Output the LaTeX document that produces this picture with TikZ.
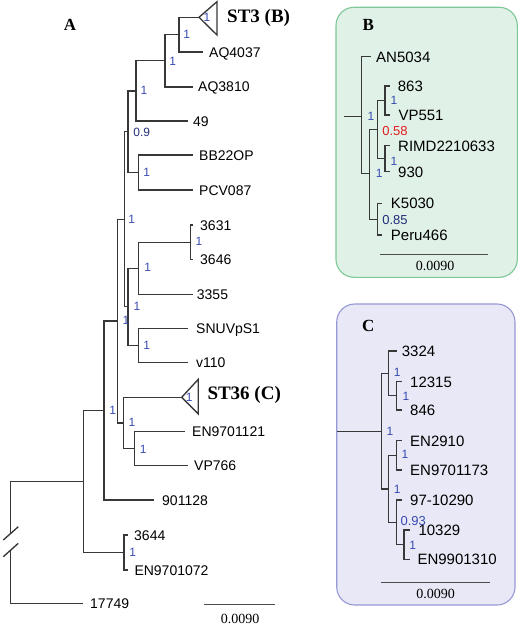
\documentclass[tikz,border=0pt]{standalone}
\usepackage{fontspec}
\setmainfont{Liberation Serif}
\newfontfamily\lab{Liberation Sans}
\definecolor{supblue}{RGB}{55,75,175}
\definecolor{supnavy}{RGB}{35,45,120}
\definecolor{supred}{RGB}{225,30,30}
\definecolor{bfill}{RGB}{224,241,231}
\definecolor{bdraw}{RGB}{125,200,150}
\definecolor{cfill}{RGB}{232,232,246}
\definecolor{cdraw}{RGB}{150,152,212}
\begin{document}
\begin{tikzpicture}[x=1pt,y=-1pt,
  br/.style={line width=1.35pt, draw=black!78},
  leaf/.style={anchor=west, inner sep=0pt, font=\lab\fontsize{14}{14}\selectfont, text height=10pt, text depth=0pt},
  leafb/.style={anchor=west, inner sep=0pt, font=\lab\fontsize{15}{15}\selectfont, text height=10.7pt, text depth=0pt},
  supv/.style={inner sep=0pt, text=supblue, font=\lab\fontsize{12}{12}\selectfont},
  head/.style={anchor=west, inner sep=0pt, font=\bfseries\fontsize{19}{19}\selectfont},
  panel/.style={inner sep=0pt, font=\bfseries\fontsize{17}{17}\selectfont},
  sclbar/.style={line width=1pt, draw=black!70},
  scltext/.style={inner sep=0pt, font=\fontsize{14}{14}\selectfont},
  box/.style={rounded corners=18pt, line width=1.1pt}]
\useasboundingbox (0,0) rectangle (520,626);

% ================= Panel A =================
\node[panel] (labA) at (70,25) {A};
% tips
\coordinate (st3) at (199,17.3);
\coordinate (tAQ4037) at (203,52);
\coordinate (tAQ3810) at (193,87);
\coordinate (t49) at (188,121);
\coordinate (tBB) at (193,155);
\coordinate (tPCV) at (193,190);
\coordinate (t3631) at (193.3,225);
\coordinate (t3646) at (193.3,259.3);
\coordinate (t3355) at (193.3,294.3);
\coordinate (tSNU) at (188.3,328.3);
\coordinate (tv110) at (188.3,362.3);
\coordinate (st36) at (181.7,397.3);
\coordinate (tEN121) at (185,431.7);
\coordinate (tVP766) at (187.7,465.7);
\coordinate (t901) at (154.3,500);
\coordinate (t3644) at (128.3,535);
\coordinate (tEN072) at (128.3,570);
\coordinate (t17749) at (83.3,603.3);
% internal nodes
\coordinate (n1) at (179,34.7);
\coordinate (n2) at (165,60.8);
\coordinate (n3) at (136,91);
\coordinate (n4) at (138.7,172.5);
\coordinate (n5) at (128,131.7);
\coordinate (n6) at (190.7,242.2);
\coordinate (n7) at (138.5,268.2);
\coordinate (n8) at (138.5,345.3);
\coordinate (n9) at (128,306.7);
\coordinate (n10) at (124.3,219.2);
\coordinate (n11) at (134.3,448.7);
\coordinate (n12) at (123.3,423);
\coordinate (n13) at (117.7,321);
\coordinate (n14) at (104,410.5);
\coordinate (n15) at (124,552.5);
\coordinate (n16) at (83.7,481.5);
\coordinate (brk1) at (10.7,533);
\coordinate (brk2) at (10.7,550);
% branches
\draw[br] (n1) |- (st3);  \draw[br] (n1) |- (tAQ4037);
\draw[br] (n2) |- (n1);   \draw[br] (n2) |- (tAQ3810);
\draw[br] (n3) |- (n2);   \draw[br] (n3) |- (t49);
\draw[br] (n4) |- (tBB);  \draw[br] (n4) |- (tPCV);
\draw[br] (n5) |- (n3);   \draw[br] (n5) |- (n4);
\draw[br] (n6) |- (t3631); \draw[br] (n6) |- (t3646);
\draw[br] (n7) |- (n6);   \draw[br] (n7) |- (t3355);
\draw[br] (n8) |- (tSNU); \draw[br] (n8) |- (tv110);
\draw[br] (n9) |- (n7);   \draw[br] (n9) |- (n8);
\draw[br] (n10) |- (n5);  \draw[br] (n10) |- (n9);
\draw[br] (n11) |- (tEN121); \draw[br] (n11) |- (tVP766);
\draw[br] (n12) |- (st36); \draw[br] (n12) |- (n11);
\draw[br] (n13) |- (n10); \draw[br] (n13) |- (n12);
\draw[br] (n14) |- (n13); \draw[br] (n14) |- (t901);
\draw[br] (n15) |- (t3644); \draw[br] (n15) |- (tEN072);
\draw[br] (n16) |- (n14); \draw[br] (n16) |- (n15);
\draw[br] (brk1) |- (n16); \draw[br] (brk2) |- (t17749);
\draw[br] (3.3,540) -- (18.3,526.7);
\draw[br] (3.3,556.7) -- (18.3,543.3);
% collapsed triangles
\draw[br] (st3) -- (217,1.7) -- (217,35) -- cycle;
\draw[br] (st36) -- (198.3,379.3) -- (198.3,414) -- cycle;
\node[head] (lST3) at (227,18) {ST3 (B)};
\node[head] (lST36) at (207.3,394.5) {ST36 (C)};
% leaf labels
\node[leaf] (lAQ4037) at (209,52) {AQ4037};
\node[leaf] (lAQ3810) at (198,87) {AQ3810};
\node[leaf] (l49) at (193,121) {49};
\node[leaf] (lBB) at (199,155) {BB22OP};
\node[leaf] (lPCV) at (199,190) {PCV087};
\node[leaf] (l3631) at (200,225) {3631};
\node[leaf] (l3646) at (200,259.3) {3646};
\node[leaf] (l3355) at (196.7,294.3) {3355};
\node[leaf] (lSNU) at (196,328.3) {SNUVpS1};
\node[leaf] (lv110) at (196,362.3) {v110};
\node[leaf] (lEN121) at (192,431.7) {EN9701121};
\node[leaf] (lVP766) at (194,465.7) {VP766};
\node[leaf] (l901) at (162,500) {901128};
\node[leaf] (l3644) at (134,535) {3644};
\node[leaf] (lEN072) at (134.3,570) {EN9701072};
\node[leaf] (l17749) at (90,603.3) {17749};
% support values
\node[supv] (s0) at (207,17.3) {1};
\node[supv] (s1) at (186.7,34.3) {1};
\node[supv] (s2) at (172.7,61) {1};
\node[supv] (s3) at (144,90.7) {1};
\node[supv, text=supnavy] (s5) at (141.7,132.7) {0.9};
\node[supv] (s4) at (146.7,172.7) {1};
\node[supv] (s10) at (131.7,219) {1};
\node[supv] (s6) at (199,241.7) {1};
\node[supv] (s7) at (147.7,267.7) {1};
\node[supv] (s9) at (137,306.7) {1};
\node[supv] (s13) at (126,320.3) {1};
\node[supv] (s8) at (146.7,345.7) {1};
\node[supv] (s14) at (112.7,410.7) {1};
\node[supv] (s36) at (189.3,397.3) {1};
\node[supv] (s12) at (132,422.7) {1};
\node[supv] (s11) at (143.3,449) {1};
\node[supv] (s15) at (132.7,552.3) {1};
% scale bar
\coordinate (sa1) at (204,604.3);
\coordinate (sa2) at (275,604.3);
\draw[sclbar] (sa1) -- (sa2);
\node[scltext] (sat) at (240,619) {0.0090};

% ================= Panel B =================
\draw[box, fill=bfill, draw=bdraw] (336,7.3) rectangle (517.3,277.3);
\node[panel] (labB) at (368.3,25) {B};
\coordinate (bstem) at (344.3,116.7);
\coordinate (bR) at (361.7,116.7);
\coordinate (bY) at (369.3,173.8);
\coordinate (bX) at (377.3,129.6);
\coordinate (b863) at (385,100.5);
\coordinate (bRI) at (385,158.7);
\coordinate (bK) at (377.3,219.2);
\coordinate (tAN) at (370.7,56.7);
\coordinate (t863) at (390,86);
\coordinate (tVP551) at (390,115);
\coordinate (tRIMD) at (390,145.7);
\coordinate (t930) at (390,171.7);
\coordinate (tK5030) at (381.7,203.3);
\coordinate (tPeru) at (381.7,235);
\draw[br] (bstem) -- (bR);
\draw[br] (bR) |- (tAN); \draw[br] (bR) |- (bY);
\draw[br] (bY) |- (bX); \draw[br] (bY) |- (bK);
\draw[br] (bX) |- (b863); \draw[br] (bX) |- (bRI);
\draw[br] (b863) |- (t863); \draw[br] (b863) |- (tVP551);
\draw[br] (bRI) |- (tRIMD); \draw[br] (bRI) |- (t930);
\draw[br] (bK) |- (tK5030); \draw[br] (bK) |- (tPeru);
\node[leafb] (lAN) at (376,56.7) {AN5034};
\node[leafb] (l863) at (397.7,86) {863};
\node[leafb] (lVP551) at (398.3,115) {VP551};
\node[leafb] (lRIMD) at (398,145.7) {RIMD2210633};
\node[leafb] (l930) at (398,172) {930};
\node[leafb] (lK5030) at (390.7,203.3) {K5030};
\node[leafb] (lPeru) at (390.7,235) {Peru466};
\node[supv] (sbR) at (371,116.7) {1};
\node[supv] (sbY) at (379.3,173.3) {1};
\node[supv, text=supred, font=\lab\fontsize{13}{13}\selectfont] (sbX) at (395,130.7) {0.58};
\node[supv] (sb863) at (394,100) {1};
\node[supv] (sbRI) at (394,161) {1};
\node[supv, text=supnavy, font=\lab\fontsize{13}{13}\selectfont] (sbK) at (395,220) {0.85};
\coordinate (sb1) at (380,254.3);
\coordinate (sb2) at (488.3,254.3);
\draw[sclbar] (sb1) -- (sb2);
\node[scltext] (sbt) at (435,265.5) {0.0090};

% ================= Panel C =================
\draw[box, fill=cfill, draw=cdraw] (336.7,304) rectangle (515,605);
\node[panel] (labC) at (368.3,326) {C};
\coordinate (cstem) at (337.3,431.2);
\coordinate (cR) at (381.7,431.2);
\coordinate (cT) at (388.3,373.4);
\coordinate (c12) at (396.7,395.8);
\coordinate (cB) at (388.3,488.9);
\coordinate (cEN) at (396.7,455.3);
\coordinate (cL) at (396.7,522.3);
\coordinate (c103) at (404,544.7);
\coordinate (t3324) at (396.7,351);
\coordinate (t12315) at (401.7,381.7);
\coordinate (t846) at (401.7,410);
\coordinate (tEN2910) at (401.7,440.7);
\coordinate (tEN173) at (401.7,470);
\coordinate (t97) at (401.7,500);
\coordinate (t10329) at (410,530);
\coordinate (tEN310) at (410,559.3);
\draw[br] (cstem) -- (cR);
\draw[br] (cR) |- (cT); \draw[br] (cR) |- (cB);
\draw[br] (cT) |- (t3324); \draw[br] (cT) |- (c12);
\draw[br] (c12) |- (t12315); \draw[br] (c12) |- (t846);
\draw[br] (cB) |- (cEN); \draw[br] (cB) |- (cL);
\draw[br] (cEN) |- (tEN2910); \draw[br] (cEN) |- (tEN173);
\draw[br] (cL) |- (t97); \draw[br] (cL) |- (c103);
\draw[br] (c103) |- (t10329); \draw[br] (c103) |- (tEN310);
\node[leafb] (l3324) at (401.7,351) {3324};
\node[leafb] (l12315) at (410,381.7) {12315};
\node[leafb] (l846) at (410,410) {846};
\node[leafb] (lEN2910) at (410,440.7) {EN2910};
\node[leafb] (lEN173) at (410,470) {EN9701173};
\node[leafb] (l97) at (410,500) {97-10290};
\node[leafb] (l10329) at (418.3,530) {10329};
\node[leafb] (lEN310) at (417.3,559.3) {EN9901310};
\node[supv] (scR) at (390,431) {1};
\node[supv] (scT) at (397.3,372.7) {1};
\node[supv] (sc12) at (406,396) {1};
\node[supv] (scEN) at (405,454) {1};
\node[supv] (scB) at (397.3,489.3) {1};
\node[supv, font=\lab\fontsize{13}{13}\selectfont] (scL) at (413.3,520.7) {0.93};
\node[supv] (sc103) at (412.7,545) {1};
\coordinate (sc1) at (381,582.7);
\coordinate (sc2) at (490,582.7);
\draw[sclbar] (sc1) -- (sc2);
\node[scltext] (sct) at (435.7,593.5) {0.0090};
\end{tikzpicture}
\end{document}
